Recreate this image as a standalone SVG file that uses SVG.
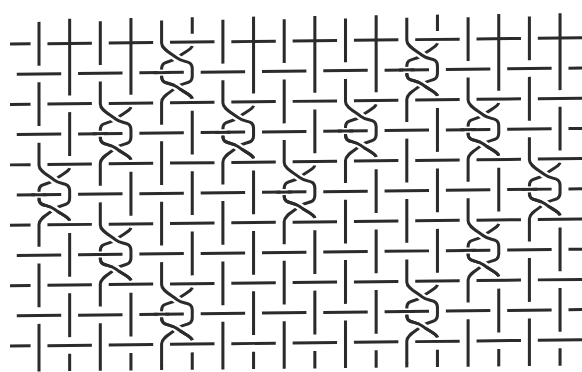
<svg xmlns="http://www.w3.org/2000/svg" width="582" height="372" viewBox="0 0 582 372">
<style>
.s{fill:none;stroke:#2b2b2b;stroke-width:.099;stroke-linecap:butt}
.h{stroke:#fff;stroke-width:.26}
.hb{stroke:#fff;stroke-width:.2}
</style>
<defs>
<path id="he" d="M-.946,0H-.275M.275,0H1.725M2.275,0H3.725M4.275,0H5.725M6.275,0H7.725M8.275,0H9.725M10.275,0H11.725M12.275,0H13.725M14.275,0H15.725M16.275,0H17.725"/>
<path id="ho" d="M-.725,0H.725M1.275,0H2.725M3.275,0H4.725M5.275,0H6.725M7.275,0H8.725M9.275,0H10.725M11.275,0H12.725M13.275,0H14.725M15.275,0H16.725M17.275,0H18.725"/>
<g id="tw">
<path d="M.5,-.87C.47,-.74 .22,-.66 0,-.48C-.22,-.3 -.5,-.42 -.5,-.12V.12C-.5,.42 -.22,.3 0,.48C.22,.66 .47,.74 .5,.87"/>
<path class="h" d="M-.1,-.56L.1,-.4"/>
<path d="M-.5,-1.725V-.98C-.5,-.78 -.22,-.66 0,-.48C.22,-.3 .5,-.42 .5,-.12V.12C.5,.42 .22,.3 0,.48C-.22,.66 -.5,.78 -.5,.98V1.725"/>
<path class="h" d="M-.1,.4L.1,.56"/>
<path d="M-.5,.12C-.5,.42 -.22,.3 0,.48C.22,.66 .47,.74 .5,.87"/>
<path class="hb" d="M-.62,0H-.38"/>
<path d="M-.75,0H-.25"/>
</g>
</defs>
<rect width="582" height="372" fill="#fff"/>
<g class="s" transform="matrix(30.65,-0.337,0,30.2,39,43.76)">
<g id="rows">
<use href="#he" y="0"/><use href="#ho" y="1"/><use href="#he" y="2"/><use href="#ho" y="3"/><use href="#he" y="4"/><use href="#ho" y="5"/><use href="#he" y="6"/><use href="#ho" y="7"/><use href="#he" y="8"/><use href="#ho" y="9"/><use href="#he" y="10"/>
</g>
<g id="columns">
<path id="c0" d="M0,-.725V.725M0,1.275V2.725M0,7.275V8.725M0,9.275V10.85"/>
<path id="c1" d="M1,-.82V1.725M1,2.275V3.725M1,6.275V7.725M1,8.275V9.725M1,10.275V10.85"/>
<path id="c2" d="M2,-.725V.725M2,9.275V10.85"/>
<path id="c3" d="M3,-.82V1.725M3,4.275V5.725M3,8.275V9.725M3,10.275V10.85"/>
<path id="c4" d="M4,3.275V4.725M4,5.275V6.725M4,10.7V10.85"/>
<path id="c5" d="M5,-.82V-.275M5,2.275V3.725M5,4.275V5.725M5,6.275V7.725M5,10.275V10.85"/>
<path id="c6" d="M6,-.725V.725M6,5.275V6.725M6,7.275V8.725M6,9.275V10.85"/>
<path id="c7" d="M7,-.82V1.725M7,4.275V5.725M7,6.275V7.725M7,8.275V9.725M7,10.275V10.85"/>
<path id="c8" d="M8,-.725V.725M8,1.275V2.725M8,7.275V8.725M8,9.275V10.85"/>
<path id="c9" d="M9,-.82V1.725M9,2.275V3.725M9,6.275V7.725M9,8.275V9.725M9,10.275V10.85"/>
<path id="c10" d="M10,-.725V.725M10,5.275V6.725M10,7.275V8.725M10,9.275V10.85"/>
<path id="c11" d="M11,-.82V1.725M11,4.275V5.725M11,6.275V7.725M11,8.275V9.725M11,10.275V10.85"/>
<path id="c12" d="M12,3.275V4.725M12,5.275V6.725M12,10.7V10.85"/>
<path id="c13" d="M13,-.82V-.275M13,2.275V3.725M13,4.275V5.725M13,6.275V7.725M13,10.275V10.85"/>
<path id="c14" d="M14,-.725V.725M14,9.275V10.85"/>
<path id="c15" d="M15,-.82V1.725M15,4.275V5.725M15,8.275V9.725M15,10.275V10.85"/>
<path id="c16" d="M16,-.725V.725M16,1.275V2.725M16,7.275V8.725M16,9.275V10.85"/>
<path id="c17" d="M17,-.82V1.725M17,2.275V3.725M17,6.275V7.725M17,8.275V9.725M17,10.275V10.85"/>
</g>
<g id="twists">
<use href="#tw" transform="translate(4.5,1)"/>
<use href="#tw" transform="translate(12.5,1)"/>
<use href="#tw" transform="translate(2.5,3)"/>
<use href="#tw" transform="translate(6.5,3)"/>
<use href="#tw" transform="translate(10.5,3)"/>
<use href="#tw" transform="translate(14.5,3)"/>
<use href="#tw" transform="translate(0.5,5)"/>
<use href="#tw" transform="translate(8.5,5)"/>
<use href="#tw" transform="translate(16.5,5)"/>
<use href="#tw" transform="translate(2.5,7)"/>
<use href="#tw" transform="translate(14.5,7)"/>
<use href="#tw" transform="translate(4.5,9)"/>
<use href="#tw" transform="translate(12.5,9)"/>
</g>
</g>
</svg>
